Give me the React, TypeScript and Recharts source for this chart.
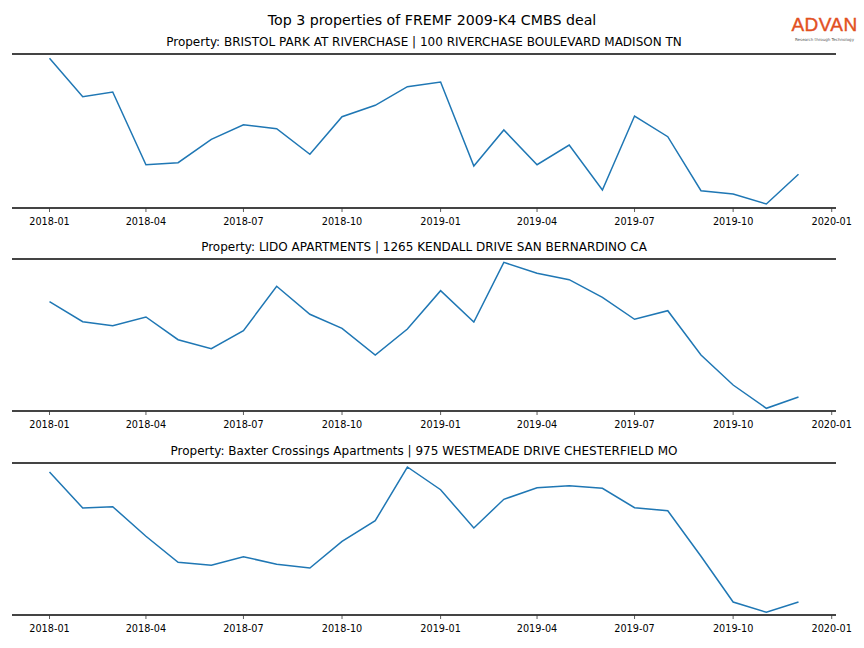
import { LineChart, Line, XAxis, YAxis, ReferenceLine } from "recharts";

// monthly points, 2018-01 .. 2019-12
const months = [
  "2018-01", "2018-02", "2018-03", "2018-04", "2018-05", "2018-06",
  "2018-07", "2018-08", "2018-09", "2018-10", "2018-11", "2018-12",
  "2019-01", "2019-02", "2019-03", "2019-04", "2019-05", "2019-06",
  "2019-07", "2019-08", "2019-09", "2019-10", "2019-11", "2019-12",
];

const bristolPark = [
  149.7, 111.3, 116, 43.3, 45.3, 68.7, 83.3, 79.3, 53.7, 91.3, 102.7, 121.3,
  126, 42, 78, 43.3, 63, 18, 92, 71.3, 17.3, 14, 4, 33.7,
];
const lidoApartments = [
  109.3, 89.3, 85.3, 94, 71.3, 62.3, 80.3, 124.7, 96.7, 82.7, 56, 82,
  120.3, 89, 148.7, 137.7, 131.3, 113.7, 91.7, 100.3, 56, 26, 2.7, 14,
];
const baxterCrossings = [
  143, 107, 108.3, 78.7, 52.7, 49.7, 58.3, 50.7, 47, 73.7, 94.3, 148,
  125.3, 87, 115.7, 127.3, 129.3, 126.7, 107.3, 104.3, 58.7, 13, 2.7, 13,
];

const tickLabels = [
  "2018-01", "2018-04", "2018-07", "2018-10", "2019-01",
  "2019-04", "2019-07", "2019-10", "2020-01",
];

const mainTitle = "Top 3 properties of FREMF 2009-K4 CMBS deal";

const toTime = (s: string) => {
  const [y, m] = s.split("-").map(Number);
  return Date.UTC(y, m - 1, 1);
};

const fmtMonth = (t: number) => {
  const d = new Date(t);
  return `${d.getUTCFullYear()}-${String(d.getUTCMonth() + 1).padStart(2, "0")}`;
};

const xDomain = [Date.UTC(2017, 10, 27), Date.UTC(2020, 0, 5)];
const font = "'DejaVu Sans', sans-serif";
const PAD = 3; // room above the top spine so its stroke isn't cut off

const panels = [
  { title: "Property: BRISTOL PARK AT RIVERCHASE | 100 RIVERCHASE BOULEVARD MADISON TN", values: bristolPark, top: 54, h: 154, yMax: 154 },
  { title: "Property: LIDO APARTMENTS | 1265 KENDALL DRIVE SAN BERNARDINO CA", values: lidoApartments, top: 259, h: 152, yMax: 152 },
  { title: "Property: Baxter Crossings Apartments | 975 WESTMEADE DRIVE CHESTERFIELD MO", values: baxterCrossings, top: 463, h: 152, yMax: 152 },
];

function Panel({ title, values, top, h, yMax }: any) {
  const data = months.map((m, i) => ({ t: toTime(m), v: values[i] }));
  return (
    <>
      <div style={{ position: "absolute", left: 12, width: 824, top: top - 20, display: "flex", justifyContent: "center", lineHeight: "16px" }}>
        <span style={{ fontSize: 12, fontFamily: font, color: "#000" }}>{title}</span>
      </div>
      <div style={{ position: "absolute", left: 0, top: top - PAD }}>
        <LineChart width={864} height={h + 30 + PAD} data={data} margin={{ top: PAD, right: 28, left: 12, bottom: 0 }}>
          <XAxis
            dataKey="t"
            type="number"
            scale="time"
            domain={xDomain}
            ticks={tickLabels.map(toTime)}
            tickFormatter={fmtMonth}
            height={30}
            axisLine={{ stroke: "#444", strokeWidth: 2 }}
            tickLine={{ stroke: "#333", strokeWidth: 0.8 }}
            tickSize={4}
            tickMargin={6}
            tick={{ fontSize: 9.7, fill: "#000", fontFamily: font }}
            interval={0}
            allowDataOverflow
          />
          <YAxis hide domain={[0, yMax]} allowDataOverflow />
          <ReferenceLine y={yMax} stroke="#444" strokeWidth={2} ifOverflow="visible" />
          <Line type="linear" dataKey="v" stroke="#1f77b4" strokeWidth={1.5} dot={false} isAnimationActive={false} />
        </LineChart>
      </div>
    </>
  );
}

export default function App() {
  return (
    <div style={{ position: "absolute", left: 0, top: 0, width: 864, height: 648, background: "#fff", fontFamily: font }}>
      <div style={{ position: "absolute", left: 0, width: 864, top: 11, display: "flex", justifyContent: "center", lineHeight: "18px" }}>
        <span style={{ fontSize: 14.2, color: "#000" }}>{mainTitle}</span>
      </div>
      <div style={{ position: "absolute", left: 790, top: 15, width: 69, display: "flex", justifyContent: "center", lineHeight: "20px" }}>
        <span style={{ fontFamily: "'Liberation Sans', Arial, sans-serif", fontSize: 19, color: "#e2501f", letterSpacing: 0.4, WebkitTextStroke: "0.4px #e2501f" }}>ADVAN</span>
      </div>
      <div style={{ position: "absolute", left: 790, top: 37, width: 69, display: "flex", justifyContent: "center", lineHeight: "5px" }}>
        <span style={{ fontSize: 4, color: "#555" }}>Research through Technology</span>
      </div>
      {panels.map((p) => (
        <Panel key={p.title} {...p} />
      ))}
    </div>
  );
}
